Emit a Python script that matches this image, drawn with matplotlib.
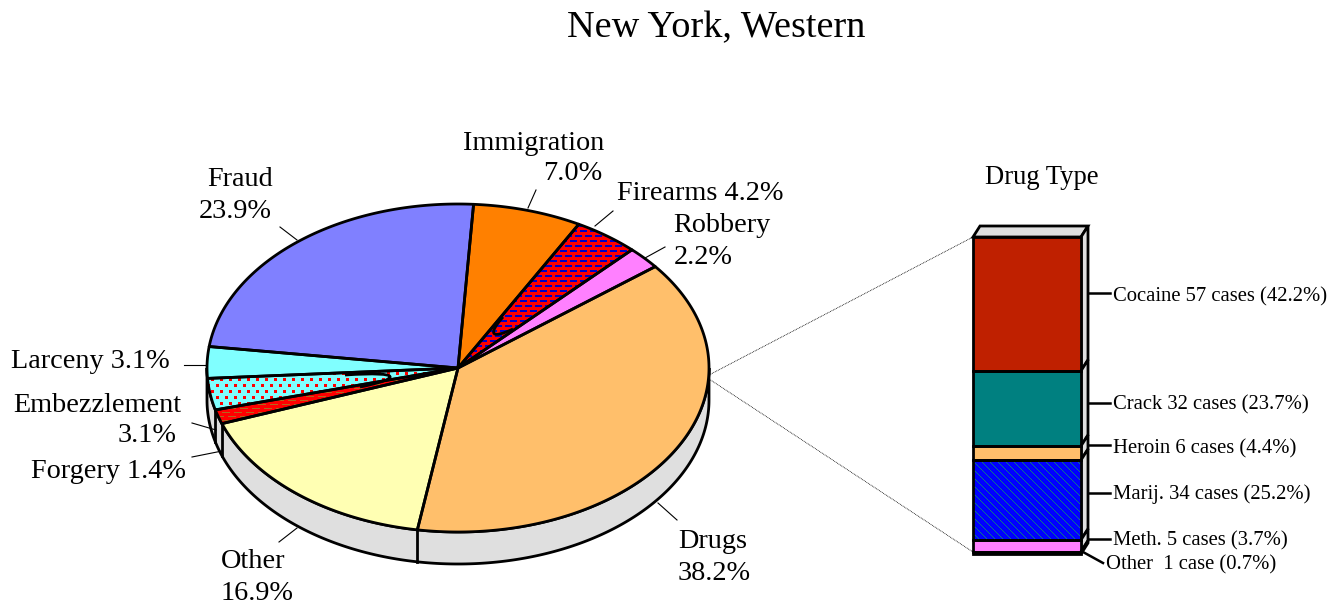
import numpy as np
import matplotlib
matplotlib.use('Agg')
import matplotlib.pyplot as plt
from matplotlib.patches import Polygon, PathPatch
from matplotlib.path import Path
from matplotlib.colors import to_rgba

plt.rcParams['font.family'] = ['Liberation Serif', 'DejaVu Serif']

# pie, clockwise starting at the drugs slice
crimes = ['Drugs', 'Other', 'Forgery', 'Embezzlement', 'Larceny', 'Fraud',
          'Immigration', 'Firearms', 'Robbery']
shares = [38.2, 16.9, 1.4, 3.1, 3.1, 23.9, 7.0, 4.2, 2.2]
crime_colors = ['#FFBF6B', '#FFFFB3', '#FF0000', '#80FFFF', '#80FFFF', '#8080FF',
                '#FF8000', '#FF0000', '#FF80FF']

# stacked bar, top to bottom
drugs = ['Cocaine', 'Crack', 'Heroin', 'Marij.', 'Meth.', 'Other']
cases = [57, 32, 6, 34, 5, 1]
drug_colors = ['#BF2000', '#008080', '#FFBF6B', '#0000FF', '#FF80FF', '#000000']
drug_labels = ['Cocaine 57 cases (42.2%)', 'Crack 32 cases (23.7%)',
               'Heroin 6 cases (4.4%)', 'Marij. 34 cases (25.2%)',
               'Meth. 5 cases (3.7%)', 'Other  1 case (0.7%)']

W, H = 1341, 603
cx, cy, rx, ry, depth = 458, 368, 251, 164, 32
start_angle = 38.2
LW = 2.0

fig = plt.figure(figsize=(W / 100, H / 100), dpi=100)
ax = fig.add_axes([0, 0, 1, 1])


def rim(a, drop=0):
    a = np.radians(a)
    return cx + rx * np.cos(a), cy - ry * np.sin(a) + drop


def arc(a0, a1, drop=0):
    t = np.linspace(a0, a1, max(int(abs(a1 - a0) * 3), 2))
    x, y = rim(t, drop)
    return np.column_stack([x, y])


def texture(tile, face):
    # repeat a small pixel tile across the whole canvas
    ny, nx = tile.shape
    big = np.tile(tile, (H // ny + 1, W // nx + 1))[:H, :W]
    rgba = np.zeros((H, W, 4))
    rgba[big > 0] = to_rgba(face)
    return rgba


def brick(dash, gap, rows, thick):
    tile = np.zeros((rows * 2, dash + gap))
    tile[:thick, :dash] = 1
    shift = (dash + gap) // 2
    tile[rows:rows + thick, np.arange(shift, shift + dash) % (dash + gap)] = 1
    return tile


dots = np.zeros((12, 18))
for yy, xx in [(0, 0), (0, 9), (6, 4), (6, 13)]:
    dots[yy:yy + 3, xx:xx + 3] = 1

diag = np.zeros((8, 8))
for k in range(8):
    diag[k, k] = 1

patterns = {'Firearms': (brick(7, 3, 5, 2), '#0000C8'),
            'Embezzlement': (dots, '#FF0000'),
            'Forgery': (brick(8, 4, 4, 1), '#B5651D'),
            'Marij.': (diag, '#0A7F7F')}


def fill_patch(pts, color, name):
    patch = Polygon(pts, closed=True, fc=color, ec='none', zorder=2)
    ax.add_patch(patch)
    if name in patterns:
        tile, face = patterns[name]
        im = ax.imshow(texture(tile, face), extent=(0, W, H, 0), zorder=3,
                       interpolation='nearest', aspect='auto')
        im.set_clip_path(patch)


# side wall of the pie
ax.add_patch(Polygon(np.vstack([arc(180, 360), arc(360, 180, depth)]), closed=True,
                     fc='#DFDFDF', ec='black', lw=LW, zorder=1))

ang = start_angle
edges = []
for name, s, c in zip(crimes, shares, crime_colors):
    a1 = ang - s * 3.6
    pts = np.vstack([[cx, cy], arc(ang, a1)])
    fill_patch(pts, c, name)
    edges.append(pts)
    ang = a1

for pts in edges:
    ax.add_patch(Polygon(pts, closed=True, fc='none', ec='black', lw=LW, zorder=4,
                         joinstyle='round'))

# wall seams at the slices that reach the front
boundaries = start_angle - np.cumsum(shares) * 3.6
for b in boundaries[:3]:
    x, y = rim(b)
    ax.plot([x, x], [y, y + depth], color='black', lw=LW, zorder=1.5)

# little hairpin loops on the two hatched slices
for verts in [[(503, 317), (487, 335), (492, 339), (513, 329)],
              [(345, 375), (405, 371), (400, 379), (360, 387)]]:
    ax.add_patch(PathPatch(Path(verts, [Path.MOVETO, Path.CURVE4, Path.CURVE4, Path.CURVE4]),
                           fc='none', ec='black', lw=LW, zorder=5))

# stacked bar
bx0, bx1, by0, by1 = 973, 1081, 237, 554
skew_x, skew_y = 7, 11
tops = by0 + (by1 - by0) * np.concatenate([[0], np.cumsum(cases)]) / sum(cases)

ax.add_patch(Polygon([(bx0, by0), (bx0 + skew_x, by0 - skew_y), (bx1 + skew_x, by0 - skew_y),
                      (bx1, by0)], closed=True, fc='#DFDFDF', ec='black', lw=LW, zorder=2))
for i, name in enumerate(drugs):
    y0, y1 = tops[i], tops[i + 1]
    ax.add_patch(Polygon([(bx1, y0), (bx1 + skew_x, y0 - skew_y), (bx1 + skew_x, y1 - skew_y),
                          (bx1, y1)], closed=True, fc='#DFDFDF', ec='black', lw=LW, zorder=2))
    fill_patch([(bx0, y0), (bx1, y0), (bx1, y1), (bx0, y1)], drug_colors[i], name)
    ax.add_patch(Polygon([(bx0, y0), (bx1, y0), (bx1, y1), (bx0, y1)], closed=True,
                         fc='none', ec='black', lw=LW, zorder=4))

# dotted connectors
ax.plot([709, bx0], [375, by0], color='black', lw=0.6, ls=(0, (1, 1)), zorder=1)
ax.plot([709, bx0], [379, by1 - 2], color='black', lw=0.6, ls=(0, (1, 1)), zorder=1)

# pie leaders
for (x0, y0, x1, y1) in [(280, 227, 297, 240), (536, 190, 528, 208), (613, 211, 595, 226),
                         (665, 247, 645, 258), (184, 365, 207, 365), (192, 423, 216, 430),
                         (192, 457, 222, 451), (279, 542, 297, 528), (658, 503, 677, 520)]:
    ax.plot([x0, x1], [y0, y1], color='black', lw=0.8, zorder=1)

# bar leaders
leader_y = [293, 403, 445, 493, 539]
for y in leader_y:
    ax.plot([1088, 1110], [y, y], color='black', lw=1.8, zorder=1)
ax.plot([1083, 1103], [552, 563], color='black', lw=1.8, zorder=1)

label_y = [297, 405, 449, 494, 541, 565]
label_x = [1113, 1113, 1113, 1113, 1113, 1106]
for txt, x, y in zip(drug_labels, label_x, label_y):
    ax.text(x, y, txt, fontsize=14.85, ha='left', va='center')

ax.text(716, 28, 'New York, Western', fontsize=27.5, ha='center', va='center')
ax.text(1042, 177, 'Drug Type', fontsize=19.2, ha='center', va='center')

pie_size = 20.3
for txt, x, y, ha in [('Immigration', 534, 143, 'center'), ('7.0%', 573, 174, 'center'),
                      ('Firearms 4.2%', 617, 194, 'left'), ('Robbery', 722, 225, 'center'),
                      ('2.2%', 703, 257, 'center'), ('Fraud', 240, 180, 'center'),
                      ('23.9%', 235, 211, 'center'), ('Larceny 3.1%', 11, 361, 'left'),
                      ('Embezzlement', 13, 405, 'left'), ('3.1%', 147, 436, 'center'),
                      ('Forgery 1.4%', 31, 471, 'left'), ('Other', 253, 561, 'center'),
                      ('16.9%', 257, 593, 'center'), ('Drugs', 713, 542, 'center'),
                      ('38.2%', 714, 574, 'center')]:
    ax.text(x, y, txt, fontsize=pie_size, ha=ha, va='center')

ax.set_xlim(0, W)
ax.set_ylim(H, 0)
ax.axis('off')

fig.savefig('out.png', dpi=100)
